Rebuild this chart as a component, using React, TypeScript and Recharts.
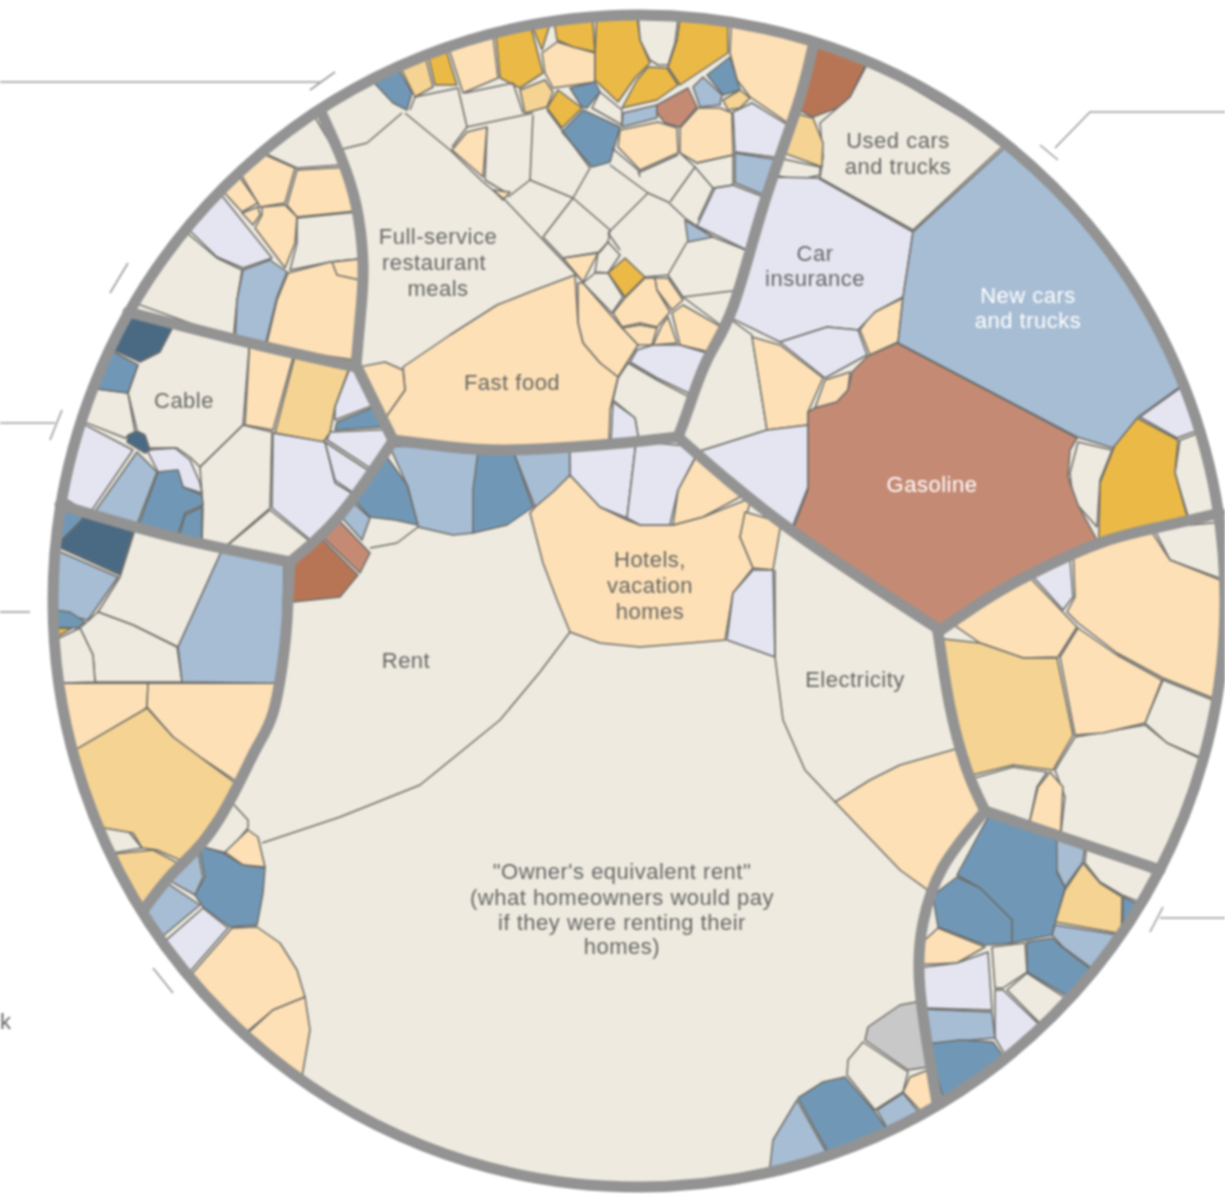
import React from 'react';
import { ScatterChart, Scatter, XAxis, YAxis } from 'recharts';

type P = [number, number];
type Label = { x: number; y: number; text: string };

const circleCentre = [{ x: 639, y: 601 }];

const beigeCells: P[][] = [
  [[238,805],[248,820],[248,828],[227,853],[205,852]],
  [[103,825],[123,825],[142,848],[113,852]],
  [[133,537],[220,562],[178,647],[133,625],[98,612],[120,577]],
  [[98,612],[133,625],[177,647],[182,682],[95,682],[93,655],[80,628]],
  [[80,628],[93,655],[95,682],[67,682],[60,640]],
  [[102,392],[128,393],[135,432],[125,438],[88,423],[92,405]],
  [[243,425],[272,432],[270,508],[225,543],[203,538],[203,510],[200,467]],
  [[270,510],[307,538],[288,558],[225,545]],
  [[317,120],[333,168],[297,168],[267,158]],
  [[297,218],[348,213],[352,260],[330,262],[290,270],[297,243]],
  [[192,237],[217,258],[242,270],[237,300],[235,332],[138,305]],
  [[628,363],[657,380],[683,395],[675,430],[638,432],[635,418],[613,400],[618,378]],
  [[733,320],[752,335],[767,430],[700,448],[685,433]],
  [[865,70],[1002,148],[913,230],[820,178],[823,157],[820,123],[850,97]],
  [[785,160],[820,167],[820,175],[797,180],[780,177]],
  [[1078,442],[1112,450],[1100,480],[1097,527],[1073,500],[1070,473]],
  [[1192,435],[1210,510],[1188,515],[1175,473],[1180,440]],
  [[1157,540],[1215,523],[1220,580],[1170,560]],
  [[1163,680],[1208,700],[1197,757],[1167,743],[1145,723]],
  [[1075,737],[1145,725],[1167,743],[1197,758],[1172,833],[1160,868],[1065,823],[1065,797],[1055,770]],
  [[980,775],[1013,767],[1047,772],[1037,787],[1033,813],[990,805]],
  [[1085,850],[1152,872],[1137,900],[1122,895],[1100,882],[1085,863]],
  [[992,947],[1025,943],[1027,972],[1003,988],[995,988]],
  [[1007,990],[1027,973],[1063,995],[1037,1020]],
  [[863,1042],[908,1072],[903,1092],[875,1110],[847,1075],[848,1060]],
  [[638,23],[678,22],[675,43],[668,65],[658,65],[650,60],[640,40]],
  [[600,92],[622,110],[622,125],[592,108]],
  [[608,242],[620,255],[608,273],[595,272],[598,253]],
  [[583,283],[595,273],[608,273],[623,297],[612,313]],
];

const orangeCells: P[][] = [
  [[570,475],[600,507],[627,520],[640,525],[673,525],[703,517],[743,508],[740,537],[753,568],[733,593],[725,640],[690,643],[640,647],[600,643],[570,632],[557,600],[543,563],[530,513],[535,507]],
  [[690,463],[737,505],[703,517],[673,525],[678,490]],
  [[745,512],[773,532],[773,570],[753,568],[740,537]],
  [[835,802],[870,780],[900,765],[952,750],[965,785],[977,812],[950,850],[930,893],[900,870]],
  [[248,830],[258,837],[265,867],[243,865],[225,852]],
  [[232,928],[257,927],[280,943],[297,970],[305,997],[273,1010],[248,1030],[195,972]],
  [[250,1030],[273,1010],[305,997],[310,1030],[305,1075]],
  [[67,682],[148,683],[147,707],[120,732],[78,750],[70,715]],
  [[148,683],[272,682],[257,733],[233,780],[200,757],[173,737],[147,707]],
  [[247,353],[292,363],[273,430],[245,425]],
  [[267,160],[295,168],[285,203],[260,207],[245,178]],
  [[297,170],[335,170],[347,212],[297,217],[287,205]],
  [[243,180],[258,203],[242,212],[227,195]],
  [[242,213],[258,207],[260,215],[253,225]],
  [[262,207],[285,205],[297,217],[295,243],[285,268],[255,228],[262,215]],
  [[288,273],[330,262],[352,260],[355,300],[353,360],[268,338],[277,300]],
  [[332,262],[352,260],[352,280],[337,275]],
  [[450,52],[495,42],[498,78],[463,93]],
  [[542,53],[557,42],[595,53],[595,82],[553,88],[545,73]],
  [[730,30],[808,47],[782,122],[750,97],[737,80],[730,53]],
  [[620,130],[658,122],[677,128],[678,153],[640,170],[618,147]],
  [[680,128],[698,108],[720,108],[732,113],[733,155],[697,163],[680,153]],
  [[452,150],[467,132],[487,127],[483,177]],
  [[493,190],[510,192],[503,200]],
  [[563,258],[598,253],[583,282]],
  [[645,278],[655,278],[657,290],[670,312],[657,327],[640,323],[622,327],[613,313],[625,298]],
  [[655,278],[668,278],[683,300],[672,310],[657,290]],
  [[683,305],[713,323],[702,348],[680,345],[672,313]],
  [[668,317],[677,343],[653,345],[662,325]],
  [[622,328],[640,325],[657,328],[652,345],[638,345]],
  [[578,283],[583,283],[622,328],[638,345],[618,377],[600,363],[583,343],[578,323]],
  [[575,275],[535,290],[497,305],[450,335],[403,367],[405,390],[395,415],[400,438],[500,440],[608,435],[610,410],[618,377],[600,363],[583,343],[578,323]],
  [[362,365],[385,362],[403,370],[405,390],[395,415],[380,395]],
  [[752,337],[780,345],[823,378],[808,412],[808,425],[767,430]],
  [[860,330],[872,313],[903,298],[898,342],[870,355]],
  [[825,380],[850,372],[848,390],[837,402],[815,408]],
  [[1077,563],[1153,540],[1170,560],[1220,582],[1220,640],[1208,698],[1163,678],[1117,653],[1078,623],[1067,612],[1075,597]],
  [[958,633],[1035,588],[1077,627],[1058,657],[1023,658],[980,643]],
  [[1060,657],[1078,628],[1117,655],[1162,680],[1145,723],[1103,733],[1075,735]],
  [[1050,772],[1063,787],[1065,823],[1033,813],[1038,787]],
  [[938,928],[985,947],[957,963],[932,965],[933,943]],
  [[910,1077],[922,1070],[932,1102],[920,1108],[903,1092]],
];

const midOrangeCells: P[][] = [
  [[147,708],[173,737],[200,757],[232,782],[182,860],[157,850],[142,848],[133,833],[103,825],[78,750]],
  [[115,852],[153,850],[178,862],[143,905]],
  [[293,365],[348,375],[335,407],[330,433],[323,442],[275,433]],
  [[403,73],[428,63],[433,87],[415,97]],
  [[520,90],[545,80],[553,92],[547,107],[525,113]],
  [[740,90],[750,98],[740,108],[728,110],[723,100]],
  [[800,115],[813,118],[823,143],[822,167],[790,155]],
  [[948,637],[980,643],[1023,658],[1057,658],[1073,735],[1053,770],[1013,765],[978,772],[963,730]],
  [[1083,863],[1100,883],[1122,897],[1113,928],[1055,922],[1065,890]],
];

const goldCells: P[][] = [
  [[430,60],[448,55],[457,85],[435,85]],
  [[497,38],[532,33],[543,73],[520,88],[500,78]],
  [[533,33],[552,30],[553,37],[542,50]],
  [[555,28],[593,23],[595,52],[573,47],[557,40]],
  [[558,90],[582,108],[562,128],[547,108]],
  [[597,23],[637,23],[640,40],[650,63],[635,78],[618,102],[595,80],[595,53]],
  [[680,22],[727,28],[728,53],[680,85],[668,67],[677,40]],
  [[648,67],[667,68],[678,85],[657,100],[622,108],[637,80]],
  [[625,258],[645,277],[625,297],[608,273]],
  [[1137,418],[1178,440],[1175,473],[1187,515],[1098,542],[1100,483],[1117,440]],
  [[58,628],[72,628],[65,638],[58,638]],
];

const lavenderCells: P[][] = [
  [[570,455],[637,450],[627,518],[600,507],[570,475]],
  [[637,450],[688,448],[690,462],[678,490],[670,525],[640,525],[627,518]],
  [[753,570],[773,570],[775,657],[727,640],[733,593]],
  [[203,908],[228,928],[193,970],[167,940]],
  [[88,425],[133,450],[92,505],[67,498],[73,460]],
  [[147,450],[175,448],[190,460],[200,483],[202,493],[183,487],[178,472],[158,472]],
  [[273,433],[325,442],[335,483],[352,493],[308,537],[272,508]],
  [[348,378],[368,408],[335,420],[335,407]],
  [[330,432],[387,430],[388,443],[370,468],[327,440]],
  [[325,442],[368,470],[352,492],[335,480]],
  [[225,198],[272,258],[243,268],[217,257],[193,233]],
  [[733,112],[752,103],[780,123],[772,155],[735,152]],
  [[715,188],[733,185],[757,195],[738,248],[697,226]],
  [[637,350],[653,345],[680,345],[702,350],[687,393],[657,378],[630,362]],
  [[613,402],[635,418],[638,432],[610,435]],
  [[700,448],[767,430],[808,425],[808,487],[793,527],[740,490]],
  [[782,180],[818,178],[913,232],[903,297],[875,312],[858,330],[827,327],[780,342],[735,320],[755,240]],
  [[780,342],[827,327],[858,330],[867,355],[825,378]],
  [[1177,388],[1192,432],[1177,438],[1140,417]],
  [[1037,585],[1075,568],[1073,597],[1063,610]],
  [[930,968],[957,963],[988,952],[992,1010],[930,1007]],
  [[995,990],[1003,990],[1037,1022],[1003,1053],[995,1038]],
];

const lightBlueCells: P[][] = [
  [[395,450],[478,455],[473,533],[453,535],[418,527],[408,487]],
  [[513,457],[570,455],[570,475],[553,492],[535,507]],
  [[360,507],[370,518],[362,540],[347,523]],
  [[203,853],[203,877],[195,895],[177,887]],
  [[173,888],[200,905],[165,935],[150,913]],
  [[58,550],[118,577],[88,620],[68,612],[57,610]],
  [[220,562],[283,567],[280,668],[272,682],[182,682],[178,647]],
  [[137,452],[157,472],[138,520],[95,507]],
  [[243,270],[270,260],[287,272],[277,297],[267,337],[237,332],[237,300]],
  [[703,77],[722,95],[720,105],[700,107],[693,87]],
  [[623,113],[657,105],[657,118],[622,127]],
  [[735,153],[770,157],[758,193],[735,183]],
  [[685,220],[713,237],[688,242]],
  [[1002,152],[1050,190],[1100,240],[1140,300],[1177,387],[1138,417],[1113,448],[1077,437],[898,343],[903,297],[913,232]],
  [[1055,840],[1083,850],[1083,862],[1065,887],[1055,867]],
  [[1055,925],[1113,930],[1088,965],[1063,947],[1052,935]],
  [[930,1008],[992,1012],[995,1038],[933,1043]],
  [[903,1093],[918,1110],[885,1123],[877,1110]],
  [[797,1100],[827,1152],[768,1167],[773,1140]],
];

const blueCells: P[][] = [
  [[395,461],[407,485],[418,525],[395,520],[370,517],[362,505]],
  [[478,455],[513,457],[533,507],[507,525],[473,533],[473,490]],
  [[207,853],[223,853],[243,865],[265,868],[263,893],[257,925],[230,927],[203,907],[195,895],[205,877]],
  [[62,510],[83,517],[77,533],[62,547]],
  [[57,610],[70,612],[85,622],[77,628],[57,627]],
  [[117,353],[138,365],[128,393],[102,392]],
  [[158,472],[178,470],[183,487],[202,495],[203,505],[185,513],[178,532],[140,520]],
  [[202,507],[203,538],[180,532],[185,515]],
  [[335,430],[337,422],[368,410],[380,430]],
  [[375,87],[400,73],[412,93],[407,110],[393,103]],
  [[730,57],[737,80],[740,90],[723,95],[707,75]],
  [[570,88],[595,82],[600,92],[587,108],[582,107]],
  [[583,110],[620,127],[610,162],[592,167],[562,132]],
  [[988,820],[1055,840],[1057,873],[1065,888],[1055,923],[1052,935],[1012,943],[1012,920],[980,888],[957,875]],
  [[957,877],[980,888],[1012,920],[1012,943],[985,945],[938,927],[945,900]],
  [[1123,897],[1137,903],[1117,928]],
  [[1027,942],[1052,938],[1063,948],[1088,967],[1065,993],[1027,972]],
  [[935,1043],[960,1040],[993,1042],[1002,1055],[942,1098]],
  [[798,1098],[823,1082],[845,1077],[875,1112],[885,1125],[828,1150]],
];

const darkBlueCells: P[][] = [
  [[87,518],[132,537],[120,575],[67,547]],
  [[128,317],[173,330],[160,352],[140,362],[118,352]],
  [[137,431],[145,435],[150,450],[145,453],[127,442],[128,435]],
];

const salmonCells: P[][] = [
  [[345,527],[370,553],[360,573],[328,543]],
  [[657,105],[688,88],[697,107],[680,127],[665,123],[657,113]],
  [[897,343],[1077,438],[1070,450],[1068,477],[1078,505],[1096,537],[1040,568],[985,597],[940,627],[795,527],[808,490],[808,412],[815,408],[837,402],[848,390],[852,372],[868,356]],
];

const brownCells: P[][] = [
  [[327,545],[358,575],[340,597],[297,603],[295,565]],
  [[817,50],[865,67],[850,97],[837,108],[813,117],[800,110]],
];

const greyCells: P[][] = [
  [[915,1002],[922,1068],[908,1070],[865,1040],[868,1027],[900,1005]],
];

const thinEdges: P[][] = [
  [[570,632],[540,672],[500,720],[420,785],[340,817],[262,843]],
  [[370,548],[397,543],[418,527]],
  [[775,657],[783,720],[805,770],[835,802]],
  [[775,570],[775,657]],
  [[402,113],[367,143],[345,147]],
  [[405,113],[450,150],[483,182],[505,200],[543,240],[583,282]],
  [[410,110],[415,97],[458,88],[467,127],[452,147]],
  [[467,127],[533,113]],
  [[465,93],[513,83],[523,113]],
  [[487,127],[485,180]],
  [[533,115],[530,180],[508,197]],
  [[485,180],[505,192]],
  [[530,180],[573,198],[590,168]],
  [[547,110],[590,168]],
  [[573,198],[543,237]],
  [[573,198],[610,230]],
  [[543,237],[563,258],[600,252],[608,242],[610,230]],
  [[610,165],[648,193],[668,202],[685,218],[713,237],[738,248]],
  [[648,193],[608,233]],
  [[612,148],[638,170],[640,177]],
  [[638,173],[678,155]],
  [[680,153],[695,167],[670,202]],
  [[695,167],[713,188],[698,220]],
  [[697,163],[733,155],[733,185],[713,188]],
  [[687,242],[668,275],[645,277]],
  [[668,275],[683,297],[727,287]],
  [[683,297],[713,322]],
  [[608,233],[620,250]],
  [[200,467],[190,457],[177,448],[150,448]],
  [[247,353],[243,425],[200,467]],
  [[138,365],[128,393],[137,430]],
  [[173,330],[247,353]],
];

const dividers: P[][] = [
  [[813,46],[797,107],[763,207],[733,307],[707,360],[688,410],[678,437]],
  [[320,110],[340,155],[356,205],[363,267],[360,320],[356,365]],
  [[356,365],[393,440]],
  [[393,440],[450,447],[507,450],[600,445],[678,437]],
  [[128,312],[250,343],[356,367]],
  [[393,441],[340,515],[290,562]],
  [[60,505],[173,537],[290,562]],
  [[290,562],[287,620],[283,660],[273,713],[257,747],[237,787],[207,837],[173,873],[145,908]],
  [[678,437],[787,527],[940,630]],
  [[938,632],[985,600],[1033,573],[1100,543],[1160,527],[1220,513]],
  [[938,632],[950,707],[967,770],[985,811]],
  [[985,811],[1160,870]],
  [[985,811],[943,867],[923,923],[920,990],[937,1103]],
];

const leaders: P[][] = [
  [[0,82],[320,82]],
  [[310,90],[335,72]],
  [[110,293],[128,263]],
  [[0,423],[55,423]],
  [[50,440],[62,410]],
  [[0,612],[30,612]],
  [[153,968],[173,993]],
  [[1225,112],[1090,112],[1055,148]],
  [[1040,145],[1058,160]],
  [[1225,918],[1160,918]],
  [[1150,932],[1163,907]],
];

const darkLabels: Label[] = [
  { x: 898, y: 140, text: 'Used cars' },
  { x: 898, y: 166, text: 'and trucks' },
  { x: 815, y: 253, text: 'Car' },
  { x: 815, y: 278, text: 'insurance' },
  { x: 438, y: 236, text: 'Full-service' },
  { x: 434, y: 262, text: 'restaurant' },
  { x: 438, y: 288, text: 'meals' },
  { x: 512, y: 382, text: 'Fast food' },
  { x: 184, y: 400, text: 'Cable' },
  { x: 406, y: 660, text: 'Rent' },
  { x: 855, y: 679, text: 'Electricity' },
  { x: 650, y: 559, text: 'Hotels,' },
  { x: 650, y: 585, text: 'vacation' },
  { x: 650, y: 611, text: 'homes' },
  { x: 622, y: 871, text: '"Owner\'s equivalent rent"' },
  { x: 622, y: 897, text: '(what homeowners would pay' },
  { x: 622, y: 922, text: 'if they were renting their' },
  { x: 622, y: 946, text: 'homes)' },
  { x: 0, y: 1021, text: 'k' },
];

const lightLabels: Label[] = [
  { x: 1028, y: 295, text: 'New cars' },
  { x: 1028, y: 320, text: 'and trucks' },
  { x: 932, y: 484, text: 'Gasoline' },
];

const palette = {
  beige: '#EEEADF', orange: '#FDE0B5', midOrange: '#F5D392', gold: '#EBB945', lavender: '#E4E5F0',
  lightBlue: '#A7BDD4', blue: '#7098B6', darkBlue: '#4A6A84', salmon: '#C58A74', brown: '#B87555', grey: '#C8C8C8',
};
const cellGroups: [string, P[][]][] = [
  [palette.beige, beigeCells], [palette.orange, orangeCells], [palette.midOrange, midOrangeCells],
  [palette.gold, goldCells], [palette.lavender, lavenderCells], [palette.lightBlue, lightBlueCells],
  [palette.blue, blueCells], [palette.darkBlue, darkBlueCells], [palette.salmon, salmonCells],
  [palette.brown, brownCells], [palette.grey, greyCells],
];

const W = 1225, H = 1194, R = 586, RIM_SEAT = 16, DIVIDER_SEAT = 15;
const THIN = '#6b6b68', THICK = '#939393';
const noDot = () => <g />;

// A vertex read just inside the rim or a divider belongs under that thick line,
// so the cell meets it with no gap.
function nearestOnDividers(p: P): [P, number] {
  let best: P = p, bestD = Infinity;
  for (const line of dividers) {
    for (let i = 0; i + 1 < line.length; i++) {
      const [ax, ay] = line[i], [bx, by] = line[i + 1];
      const dx = bx - ax, dy = by - ay;
      const t = Math.max(0, Math.min(1, ((p[0] - ax) * dx + (p[1] - ay) * dy) / (dx * dx + dy * dy)));
      const q: P = [ax + t * dx, ay + t * dy];
      const d = Math.hypot(p[0] - q[0], p[1] - q[1]);
      if (d < bestD) { bestD = d; best = q; }
    }
  }
  return [best, bestD];
}
function seat(p: P): P {
  const { x: cx, y: cy } = circleCentre[0];
  const r = Math.hypot(p[0] - cx, p[1] - cy);
  if (r > R - RIM_SEAT) return [cx + ((p[0] - cx) * R) / r, cy + ((p[1] - cy) * R) / r];
  const [q, d] = nearestOnDividers(p);
  return d < DIVIDER_SEAT ? q : p;
}
const toData = (pts: P[]) => pts.map(([x, y]) => ({ x, y }));
const seated = (pts: P[]) => toData(pts.map(seat));

const labelShape = (fill: string) => (p: any) => (
  <text x={p.cx} y={p.cy} textAnchor={p.payload.x < 50 ? 'start' : 'middle'} dominantBaseline="central" fill={fill}
    fontFamily="'Liberation Sans', Arial, sans-serif" fontSize={22} letterSpacing={0.5}>{p.payload.text}</text>
);

export default function App() {
  return (
    <div style={{ position: 'absolute', left: 0, top: 0, width: W, height: H, overflow: 'hidden', filter: 'blur(0.8px)' }}>
      <ScatterChart width={W} height={H} margin={{ top: 0, right: 0, bottom: 0, left: 0 }}>
        <XAxis type="number" dataKey="x" domain={[0, W]} hide />
        <YAxis type="number" dataKey="y" domain={[0, H]} reversed hide />
        <Scatter data={circleCentre} isAnimationActive={false}
          shape={(p: any) => <circle cx={p.cx} cy={p.cy} r={R} fill={palette.beige} />} />
        {cellGroups.flatMap(([fill, cells], g) => cells.map((c, i) => (
          <Scatter key={`c${g}-${i}`} data={seated(c)} isAnimationActive={false} fill={fill} shape={noDot}
            lineJointType="linearClosed"
            line={{ fill, stroke: THIN, strokeWidth: 1.5, strokeLinejoin: 'round' }} />
        )))}
        {thinEdges.map((e, i) => (
          <Scatter key={`t${i}`} data={seated(e)} isAnimationActive={false} shape={noDot} lineJointType="linear"
            line={{ fill: 'none', stroke: THIN, strokeWidth: 1.5, strokeLinejoin: 'round' }} />
        ))}
        {dividers.map((e, i) => (
          <Scatter key={`d${i}`} data={toData(e)} isAnimationActive={false} shape={noDot} lineJointType="natural"
            line={{ fill: 'none', stroke: THICK, strokeWidth: 11, strokeLinejoin: 'round', strokeLinecap: 'round' }} />
        ))}
        <Scatter data={circleCentre} isAnimationActive={false}
          shape={(p: any) => <circle cx={p.cx} cy={p.cy} r={R} fill="none" stroke={THICK} strokeWidth={11} />} />
        {leaders.map((e, i) => (
          <Scatter key={`l${i}`} data={toData(e)} isAnimationActive={false} shape={noDot} lineJointType="linear"
            line={{ fill: 'none', stroke: '#9a9a9a', strokeWidth: 1.6 }} />
        ))}
        <Scatter data={darkLabels} isAnimationActive={false} shape={labelShape('#666')} />
        <Scatter data={lightLabels} isAnimationActive={false} shape={labelShape('#fff')} />
      </ScatterChart>
    </div>
  );
}
